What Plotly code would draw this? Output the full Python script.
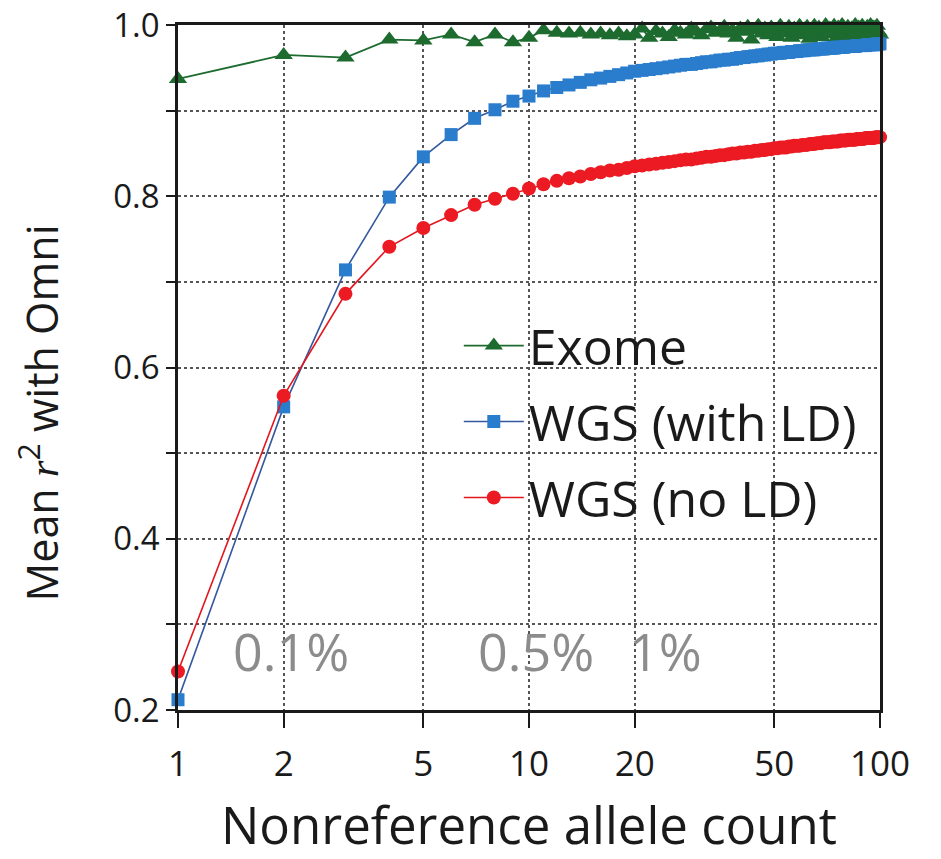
import math
import plotly.graph_objects as go

# Nonreference allele count (1..100)
allele_count = list(range(1, 101))

exome = [
    0.937, 0.965, 0.962, 0.983, 0.982, 0.989, 0.980, 0.989, 0.980, 0.985,
    0.994, 0.991, 0.990, 0.991, 0.989, 0.990, 0.988, 0.990, 0.987, 0.989,
    0.996, 0.985, 0.993, 0.990, 0.986, 0.994, 0.991, 0.989, 0.996, 0.992,
    0.988, 0.995, 0.997, 0.991, 0.993, 0.998, 0.990, 0.994, 0.985, 0.996,
    0.992, 0.998, 0.983, 0.994, 0.999, 0.990, 0.996, 0.988, 0.997, 0.993,
    0.986, 0.999, 0.994, 0.990, 0.998, 0.985, 0.996, 0.992, 0.999, 0.988,
    0.995, 0.998, 0.984, 0.993, 0.999, 0.990, 0.997, 0.986, 0.995, 1.000,
    0.989, 0.996, 0.993, 0.999, 0.984, 0.997, 0.991, 1.000, 0.987, 0.995,
    0.998, 0.983, 0.996, 0.992, 1.000, 0.988, 0.997, 0.985, 0.999, 0.993,
    0.981, 0.998, 0.990, 1.000, 0.986, 0.997, 0.983, 0.999, 0.992, 0.989,
]

wgs_ld = [
    0.212, 0.554, 0.714, 0.799, 0.846, 0.872, 0.891, 0.901, 0.911, 0.917,
    0.923, 0.927, 0.930, 0.933, 0.936, 0.938, 0.940, 0.942, 0.944, 0.946,
    0.947, 0.948, 0.949, 0.950, 0.951, 0.952, 0.953, 0.954, 0.954, 0.955,
    0.956, 0.957, 0.957, 0.958, 0.959, 0.959, 0.960, 0.960, 0.961, 0.962,
    0.962, 0.963, 0.963, 0.964, 0.964, 0.965, 0.965, 0.966, 0.966, 0.967,
    0.967, 0.967, 0.968, 0.968, 0.968, 0.969, 0.969, 0.969, 0.970, 0.970,
    0.970, 0.971, 0.971, 0.971, 0.971, 0.972, 0.972, 0.972, 0.972, 0.973,
    0.973, 0.973, 0.973, 0.973, 0.974, 0.974, 0.974, 0.974, 0.974, 0.975,
    0.975, 0.975, 0.975, 0.975, 0.975, 0.976, 0.976, 0.976, 0.976, 0.976,
    0.976, 0.977, 0.977, 0.977, 0.977, 0.977, 0.977, 0.978, 0.978, 0.978,
]

wgs_no_ld = [
    0.245, 0.567, 0.686, 0.741, 0.763, 0.778, 0.790, 0.797, 0.803, 0.809,
    0.814, 0.818, 0.821, 0.823, 0.826, 0.828, 0.830, 0.831, 0.833, 0.835,
    0.836, 0.837, 0.838, 0.839, 0.840, 0.841, 0.842, 0.843, 0.843, 0.844,
    0.845, 0.846, 0.846, 0.847, 0.848, 0.848, 0.849, 0.850, 0.850, 0.851,
    0.851, 0.852, 0.852, 0.853, 0.853, 0.854, 0.854, 0.855, 0.855, 0.856,
    0.856, 0.857, 0.857, 0.857, 0.858, 0.858, 0.859, 0.859, 0.859, 0.860,
    0.860, 0.860, 0.861, 0.861, 0.861, 0.862, 0.862, 0.862, 0.863, 0.863,
    0.863, 0.863, 0.864, 0.864, 0.864, 0.864, 0.865, 0.865, 0.865, 0.865,
    0.866, 0.866, 0.866, 0.866, 0.866, 0.867, 0.867, 0.867, 0.867, 0.867,
    0.868, 0.868, 0.868, 0.868, 0.868, 0.868, 0.869, 0.869, 0.869, 0.869,
]

x_ticks = [1, 2, 5, 10, 20, 50, 100]
y_ticks = [0.2, 0.3, 0.4, 0.5, 0.6, 0.7, 0.8, 0.9, 1.0]
y_tick_text = ["0.2", "", "0.4", "", "0.6", "", "0.8", "", "1.0"]

freq_labels = ["0.1%", "0.5%", "1%"]
freq_label_x = [2.1, 10.5, 24.5]

FONT = "Open Sans"
INK = "#1a1a1a"

fig = go.Figure()

fig.add_trace(go.Scatter(
    x=allele_count, y=exome, name="Exome", legendgroup="a",
    mode="lines+markers",
    line=dict(color="#1d6b2f", width=1.8),
    marker=dict(symbol="triangle-up", size=16, color="#1d6b2f"),
    cliponaxis=False,
))
fig.add_trace(go.Scatter(
    x=allele_count, y=wgs_ld, name="WGS (with LD)", legendgroup="b",
    mode="lines+markers",
    line=dict(color="#34589e", width=1.6),
    marker=dict(symbol="square", size=13, color="#2a7ccc"),
    cliponaxis=False,
))
fig.add_trace(go.Scatter(
    x=allele_count, y=wgs_no_ld, name="WGS (no LD)", legendgroup="c",
    mode="lines+markers",
    line=dict(color="#e3161e", width=1.6),
    marker=dict(symbol="circle", size=14, color="#ec1a22"),
    cliponaxis=False,
))

# allele-frequency markers along the bottom of the panel
for txt, xv in zip(freq_labels, freq_label_x):
    fig.add_annotation(
        x=math.log10(xv), y=0.27, text=txt, showarrow=False,
        xref="x", yref="y",
        font=dict(family=FONT, size=52, color="#8c8c8c"),
    )

# y-axis title, set slightly below the panel's midpoint
fig.add_annotation(
    x=-0.197, y=0.434, xref="paper", yref="paper",
    xanchor="center", yanchor="middle",
    text="Mean <span style=\"font-family:'Liberation Serif'\"><i>r</i></span><sup>2</sup> with Omni",
    textangle=-90, showarrow=False,
    font=dict(family=FONT, size=43, color=INK),
)

fig.update_layout(
    width=941, height=859,
    margin=dict(l=178, r=61, t=25, b=149),
    paper_bgcolor="white", plot_bgcolor="white",
    font=dict(family=FONT, color=INK),
    showlegend=True,
    legend=dict(
        x=0.40, y=0.589, xanchor="left", yanchor="top",
        bgcolor="rgba(0,0,0,0)",
        font=dict(family=FONT, size=50, color=INK),
        traceorder="grouped", tracegroupgap=8,
        itemwidth=60,
    ),
)

fig.update_xaxes(
    type="log", range=[0, 2], automargin=False,
    tickvals=x_ticks, ticktext=[str(v) for v in x_ticks],
    ticks="outside", ticklen=15, tickwidth=2, tickcolor=INK,
    ticklabelstandoff=6,
    tickfont=dict(family=FONT, size=35, color=INK),
    showline=True, linecolor=INK, linewidth=2.5, mirror=True,
    showgrid=True, gridcolor="#555555", gridwidth=1.5, griddash="dot",
    zeroline=False,
    title=dict(text="Nonreference allele count",
               font=dict(family=FONT, size=51, color=INK), standoff=32),
)

fig.update_yaxes(
    range=[0.2, 1.0], automargin=False,
    tickvals=y_ticks, ticktext=y_tick_text,
    ticks="outside", ticklen=9, tickwidth=2, tickcolor=INK,
    tickfont=dict(family=FONT, size=33, color=INK),
    showline=True, linecolor=INK, linewidth=2.5, mirror=True,
    showgrid=True, gridcolor="#555555", gridwidth=1.5, griddash="dot",
    zeroline=False,
)

fig.write_html("out.html")
